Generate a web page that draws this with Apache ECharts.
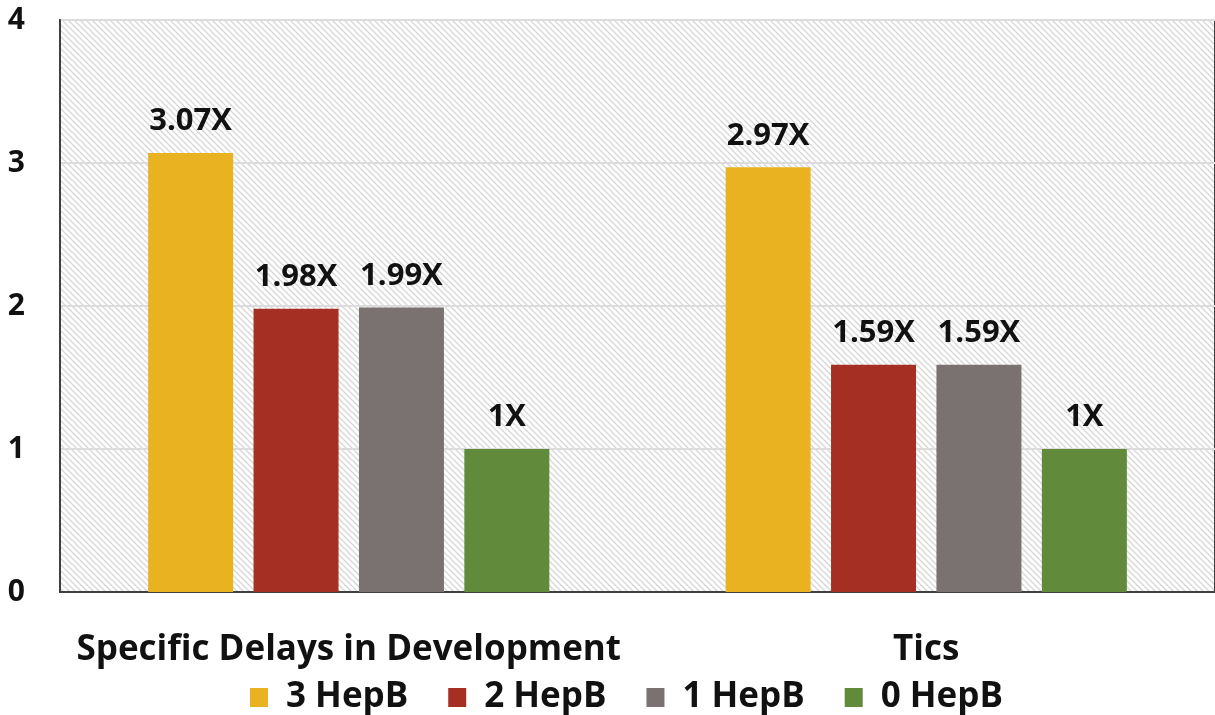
<!DOCTYPE html>
<html>
<head>
<meta charset="utf-8">
<script src="https://cdn.jsdelivr.net/npm/echarts@6/dist/echarts.min.js"></script>
<style>
html, body { margin: 0; padding: 0; background: #fff; }
#main { width: 1215px; height: 715px; }
</style>
</head>
<body>
<div id="main"></div>
<script>
var categories = ['Specific Delays in Development', 'Tics'];
var seriesNames = ['3 HepB', '2 HepB', '1 HepB', '0 HepB'];
var hep3 = [3.07, 2.97];
var hep2 = [1.98, 1.59];
var hep1 = [1.99, 1.59];
var hep0 = [1, 1];
var colors = ['#E8B221', '#A52F22', '#7A7271', '#618A3A'];

// diagonal hatch for the plot background
function hatch() {
    var c = document.createElement('canvas');
    c.width = 6;
    c.height = 6;
    var ctx = c.getContext('2d');
    ctx.fillStyle = '#ffffff';
    ctx.fillRect(0, 0, 6, 6);
    ctx.strokeStyle = '#d6d6d6';
    ctx.lineWidth = 1.3;
    ctx.beginPath();
    ctx.moveTo(-1, -1); ctx.lineTo(7, 7);
    ctx.moveTo(-4, 2); ctx.lineTo(4, 10);
    ctx.moveTo(2, -4); ctx.lineTo(10, 4);
    ctx.stroke();
    return c;
}

var font = '"Open Sans", Lato, sans-serif';
var chart = echarts.init(document.getElementById('main'));

function bar(name, data, color) {
    return {
        name: name,
        type: 'bar',
        data: data,
        barWidth: 85,
        barGap: '24%',
        itemStyle: { color: color },
        label: {
            show: true,
            position: 'top',
            distance: 16,
            formatter: '{c}X',
            fontFamily: font,
            fontWeight: 'bold',
            fontSize: 31,
            color: '#111'
        }
    };
}

var option = {
    animation: false,
    color: colors,
    grid: {
        left: 60,
        right: -5,
        top: 20,
        bottom: 123,
        show: true,
        borderColor: '#3f3f3f',
        borderWidth: 2,
        backgroundColor: { image: hatch(), repeat: 'repeat' }
    },
    legend: {
        data: seriesNames,
        bottom: -5,
        left: 245,
        itemWidth: 18,
        itemHeight: 19,
        itemGap: 40,
        icon: 'rect',
        textStyle: {
            fontFamily: font,
            fontWeight: 'bold',
            fontSize: 35,
            color: '#111',
            padding: [0, 0, 0, 13]
        }
    },
    xAxis: {
        type: 'category',
        data: categories,
        axisLine: { lineStyle: { color: '#3f3f3f', width: 2 } },
        axisTick: { show: false },
        axisLabel: {
            interval: 0,
            margin: 41,
            fontFamily: font,
            fontWeight: 'bold',
            fontSize: 35,
            color: '#111'
        }
    },
    yAxis: {
        type: 'value',
        min: 0,
        max: 4,
        interval: 1,
        axisLine: { show: true, lineStyle: { color: '#3f3f3f', width: 2 } },
        axisTick: { show: false },
        splitLine: { lineStyle: { color: '#dcdcdc', width: 2 } },
        axisLabel: {
            margin: 35,
            fontFamily: font,
            fontWeight: 'bold',
            fontSize: 30,
            color: '#111'
        }
    },
    series: [
        bar(seriesNames[0], hep3, colors[0]),
        bar(seriesNames[1], hep2, colors[1]),
        bar(seriesNames[2], hep1, colors[2]),
        bar(seriesNames[3], hep0, colors[3])
    ]
};
chart.setOption(option);
</script>
</body>
</html>
